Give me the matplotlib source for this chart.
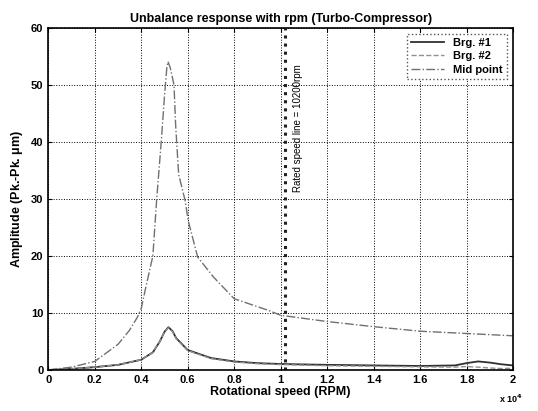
import numpy as np
import matplotlib.pyplot as plt
from matplotlib.ticker import FuncFormatter

plt.rcParams['font.family'] = ['Liberation Sans', 'DejaVu Sans']
plt.rcParams['font.weight'] = 'bold'

# Rotational speed (RPM) and amplitude (Pk.-Pk. um)
rpm_mid = [0, 1000, 2000, 3000, 3500, 3840, 4000, 4180, 4500, 4660, 4860, 5000,
           5100, 5150, 5250, 5410, 5480, 5610, 5890, 6020, 6430, 7110, 8000,
           9440, 10000, 12000, 14000, 16000, 18000, 20000]
mid_point = [0, 0.5, 1.5, 4.5, 7.0, 9.3, 10.8, 14.2, 20.0, 29.7, 40.0, 48.0,
             53.0, 54.1, 53.0, 50.0, 43.0, 34.3, 29.7, 26.2, 19.8, 16.3, 12.5,
             10.5, 9.6, 8.5, 7.6, 6.8, 6.4, 6.0]

rpm_brg = [0, 1000, 2000, 3000, 4000, 4500, 4800, 5000, 5170, 5350, 5500, 6000,
           7000, 8000, 9000, 10000, 12000, 14000, 16000, 17500, 18000, 18500,
           19000, 19500, 20000]
brg1 = [0, 0.2, 0.5, 0.9, 1.8, 3.1, 5.0, 6.7, 7.5, 6.8, 5.6, 3.5,
        2.1, 1.5, 1.2, 1.05, 0.9, 0.8, 0.7, 0.8, 1.2, 1.5, 1.3, 1.0, 0.8]
brg2 = [0, 0.2, 0.5, 0.9, 1.8, 3.1, 5.0, 6.7, 7.4, 6.7, 5.5, 3.4,
        2.0, 1.4, 1.1, 0.95, 0.75, 0.65, 0.55, 0.5, 0.6, 0.5, 0.35, 0.25, 0.3]

rated_rpm = 10200

fig = plt.figure(figsize=(5.38, 4.11), dpi=100)
ax = fig.add_axes([0.0898, 0.0998, 0.8637, 0.8322])

ax.plot(rpm_brg, brg1, color='#303030', lw=1.3, label='Brg. #1')
ax.plot(rpm_brg, brg2, color='#909090', lw=1.0, ls='--', label='Brg. #2')
ax.plot(rpm_mid, mid_point, color='#707070', lw=1.0, ls='-.', label='Mid point')
ax.axvline(rated_rpm, color='#202020', lw=2.2, ls=':')
ax.text(rated_rpm + 550, 42.5, 'Rated speed line = 10200rpm', rotation=90,
        ha='center', va='center', fontsize=7, fontweight='normal')

ax.set_xlim(0, 20000)
ax.set_ylim(0, 60)
ax.set_xticks(np.arange(0, 20001, 2000))
ax.set_yticks(np.arange(0, 61, 10))
ax.xaxis.set_major_formatter(FuncFormatter(lambda v, p: '%g' % (v / 1e4)))
ax.tick_params(direction='in', labelsize=8, length=3, top=True, right=True)
ax.grid(True, ls=':', color='black', lw=0.7)
for s in ax.spines.values():
    s.set_linewidth(1.2)

ax.set_title('Unbalance response with rpm (Turbo-Compressor)', fontsize=9,
             fontweight='bold', pad=4)
ax.set_xlabel('Rotational speed (RPM)', fontsize=9, fontweight='bold', labelpad=1)
ax.set_ylabel('Amplitude (Pk.-Pk. $\\mathregular{\\mu}$m)', fontsize=9,
              fontweight='bold', labelpad=4)
ax.text(0.995, -0.085, 'x 10$^4$', transform=ax.transAxes, ha='center',
        va='center', fontsize=6.5)

leg = ax.legend(loc='upper right', fontsize=8, fancybox=False, framealpha=1,
                edgecolor='#555555', handlelength=3, borderpad=0.4,
                labelspacing=0.3)
leg.get_frame().set_linestyle(':')

fig.savefig('out.png', dpi=100)
